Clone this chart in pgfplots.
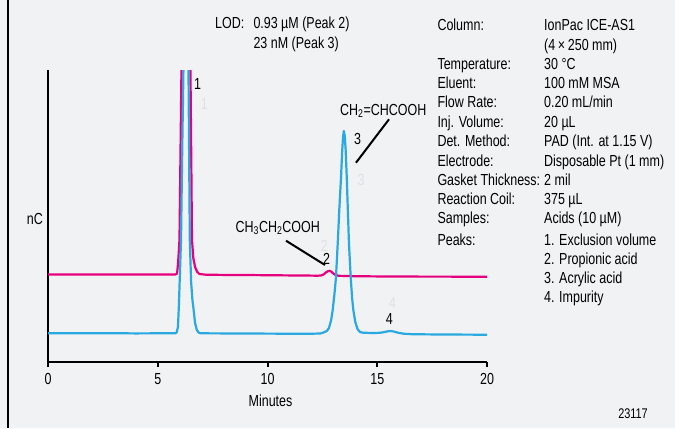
\documentclass[border=0pt]{standalone}
\usepackage{fontspec}
\setmainfont{Liberation Sans}[FakeStretch=0.78]
\usepackage{pgfplots}
\pgfplotsset{compat=1.18}
\definecolor{bg}{HTML}{F1F2F4}
\definecolor{pinkc}{HTML}{E6007E}
\definecolor{bluec}{HTML}{29A9E0}
\definecolor{ghost}{HTML}{DFE0E3}
\newcommand\f{\fontsize{16bp}{19bp}\selectfont}
\begin{document}
\begin{tikzpicture}[x=1bp,y=1bp]
\useasboundingbox (0,0) rectangle (675,-428);
\fill[bg] (0,0) rectangle (675,-428);
\draw[line width=2.5bp] (8.2,0) -- (8.2,-428);
\begin{axis}[at={(48bp,-362bp)}, anchor=south west, scale only axis,
  width=439bp, height=292bp, xmin=0, xmax=20, ymin=0, ymax=292,
  axis x line=bottom, axis y line=left,
  axis line style={-, line width=2bp, black},
  ytick=\empty, xtick={0,5,10,15,20}, tick align=outside,
  major tick length=5bp, xtick style={line width=2bp, black},
  /pgf/number format/assume math mode=true,
  xticklabel style={font=\f, yshift=-3bp},
  xlabel={Minutes}, xlabel style={font=\f, yshift=-3bp, xshift=3bp}]
\addplot[pinkc, line width=2.2bp, line join=round] coordinates {
(0,87.6) (2,87.6) (4,87.5) (5.80,87.5) (5.88,88.5) (5.93,100) (5.99,122)
(6.08,292) (6.15,500) (6.28,700) (6.40,500) (6.49,292) (6.56,122) (6.62,104)
(6.70,95) (6.80,90) (6.90,88) (7.2,87.3) (8,87.1) (9,87) (10,86.8) (11,86.6)
(12,86.4) (12.3,86.3) (12.45,86.6) (12.55,87.5) (12.65,89.3) (12.75,90.8)
(12.82,91.2) (12.9,90.5) (13.0,88.5) (13.1,87) (13.25,86.2) (14,85.8)
(15,85.6) (16,85.5) (17,85.4) (18,85.4) (19,85.3) (20,85.3)};
\addplot[bluec, line width=2.2bp, line join=round] coordinates {
(0,28.8) (1,28.8) (2,28.7) (3,28.8) (4,28.6) (5,28.7) (5.80,28.7) (5.86,29.5)
(5.92,35) (5.96,55) (6.02,95) (6.06,122) (6.12,220) (6.17,292) (6.22,420)
(6.29,520) (6.35,420) (6.40,292) (6.46,122) (6.52,80) (6.58,62) (6.62,55)
(6.70,39) (6.78,32) (6.86,29.5) (6.95,28.7) (8,28.6) (9,28.5) (10,28.4)
(11,28.3) (12,28.3) (12.40,28.5) (12.55,29.5) (12.70,31) (12.80,34) (12.90,42)
(12.97,52) (13.05,68) (13.12,85) (13.20,119) (13.27,152) (13.35,185)
(13.40,210) (13.44,225) (13.48,231) (13.52,226) (13.56,212) (13.61,185)
(13.66,152) (13.71,119) (13.79,85) (13.85,65) (13.91,52) (14.00,40)
(14.10,33) (14.21,30) (14.35,29.3) (14.8,29) (15.1,29.2) (15.3,29.8)
(15.45,30.6) (15.6,31) (15.75,30.5) (15.95,29.3) (16.2,28.3) (16.6,27.8)
(17,27.7) (18,27.5) (19,27.4) (20,27.3)};
\end{axis}
% y label
\node[anchor=base west, font=\f, inner sep=0] at (26.7,-224.3) {nC};
% peak labels
\node[anchor=base, font=\f, inner sep=0] at (197.7,-89) {1};
\node[anchor=base, font=\f, inner sep=0, text=ghost] at (204.3,-109) {1};
\node[anchor=base, font=\f, inner sep=0] at (357.7,-144) {3};
\node[anchor=base, font=\f, inner sep=0, text=ghost] at (361,-185.5) {3};
\node[anchor=base, font=\f, inner sep=0] at (326.7,-264) {2};
\node[anchor=base, font=\f, inner sep=0, text=ghost] at (324.3,-251.5) {2};
\node[anchor=base, font=\f, inner sep=0] at (389.3,-324) {4};
\node[anchor=base, font=\f, inner sep=0, text=ghost] at (392.7,-308) {4};
\node[anchor=base west, font=\f, inner sep=0] at (340,-115) {CH\textsubscript{2}=CHCOOH};
\node[anchor=base west, font=\f, inner sep=0] at (235.5,-232) {CH\textsubscript{3}CH\textsubscript{2}COOH};
\draw[line width=2bp] (356,-162.7) -- (389,-119.3);
\draw[line width=2bp] (286,-240.7) -- (325,-265);
% LOD
\node[anchor=base west, font=\f, inner sep=0] at (215,-28.5) {LOD:};
\node[anchor=base west, font=\f, inner sep=0] at (253.3,-28.5) {0.93 µM (Peak 2)};
\node[anchor=base west, font=\f, inner sep=0] at (253.3,-48.5) {23 nM (Peak 3)};
% conditions
\foreach \y/\t in {30.7/Column:, 69.3/Temperature:, 88.3/Eluent:, 107.7/Flow Rate:,
  127.3/Inj. Volume:, 146.7/Det. Method:, 166/Electrode:, 185/Gasket Thickness:,
  204.3/Reaction Coil:, 223.3/Samples:, 245.7/Peaks:}
  \node[anchor=base west, font=\f, inner sep=0] at (437.3,-\y) {\t};
\foreach \y/\t in {30.7/IonPac ICE-AS1, 50/(4\,×\,250 mm), 69.3/30 °C, 88.3/100 mM MSA,
  107.7/0.20 mL\slash min, 127.3/20 µL, 146.7/PAD (Int. at 1.15 V),
  166/Disposable Pt (1 mm), 185/2 mil, 204.3/375 µL, 223.3/Acids (10 µM),
  245.7/1. Exclusion volume, 264.3/2. Propionic acid, 283.3/3. Acrylic acid,
  302.3/4. Impurity}
  \node[anchor=base west, font=\f, inner sep=0] at (544,-\y) {\t};
\node[anchor=base east, font=\fontsize{14bp}{16bp}\selectfont, inner sep=0] at (648,-418) {23117};
\end{tikzpicture}
\end{document}
